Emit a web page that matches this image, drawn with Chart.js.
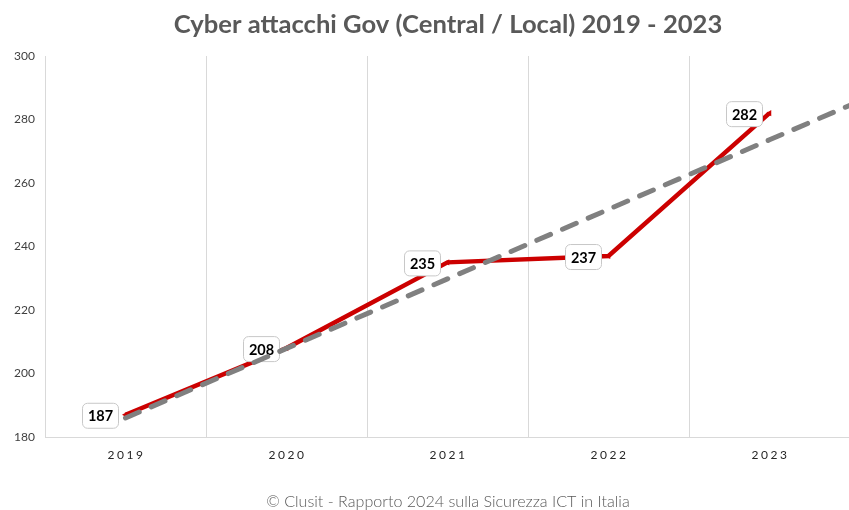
<!DOCTYPE html>
<html>
<head>
<meta charset="utf-8">
<script src="https://cdn.jsdelivr.net/npm/chart.js@4"></script>
<style>
html,body{margin:0;padding:0;background:#fff;overflow:hidden;}
#wrap{width:849px;height:510px;position:relative;overflow:hidden;}
</style>
</head>
<body>
<div id="wrap"><canvas id="c" width="853" height="510"></canvas></div>
<script>
const titleText = 'Cyber attacchi Gov (Central / Local) 2019 - 2023';
const footerText = '\u00A9 Clusit - Rapporto 2024 sulla Sicurezza ICT in Italia';
const years = ['2019', '2020', '2021', '2022', '2023'];
const attacks = [187, 208, 235, 237, 282];
// linear trend line (category index, value); last point is the half-period forecast
const trendIndex = [0, 1, 2, 3, 4, 4.5];
const trendValues = [186, 207.9, 229.8, 251.7, 273.6, 284.5];
const yTicks = [180, 200, 220, 240, 260, 280, 300];

const attackPoints = attacks.map((v, i) => ({x: i, y: v}));
const trendPoints = trendValues.map((v, i) => ({x: trendIndex[i], y: v}));

const textPlugin = {
  id: 'texts',
  afterDraw(chart) {
    const ctx = chart.ctx;
    const xs = chart.scales.x;
    ctx.save();
    ctx.fillStyle = '#595959';
    ctx.textAlign = 'center';
    ctx.textBaseline = 'middle';
    ctx.font = 'bold 25.6px Lato';
    ctx.fillText(titleText, 448, 25);
    ctx.font = '300 16.1px Lato';
    ctx.fillText(footerText, 448, 502);
    ctx.fillStyle = '#262626';
    ctx.font = '12px Lato';
    ctx.letterSpacing = '2.5px';
    years.forEach((y, i) => {
      ctx.fillText(y, xs.getPixelForValue(i) + 1, xs.top + 18);
    });
    ctx.restore();
  }
};

const labelPlugin = {
  id: 'boxLabels',
  afterDatasetDraw(chart, args) {
    if (args.index !== 0) return;
    const ctx = chart.ctx;
    const meta = args.meta;
    ctx.save();
    ctx.font = 'bold 14.5px Lato';
    ctx.textAlign = 'center';
    ctx.textBaseline = 'middle';
    meta.data.forEach((pt, i) => {
      const cx = pt.x - 25, cy = pt.y + 1;
      const w = 36, h = 25;
      ctx.beginPath();
      ctx.roundRect(cx - w / 2, cy - h / 2, w, h, 5);
      ctx.fillStyle = '#ffffff';
      ctx.fill();
      ctx.lineWidth = 1;
      ctx.strokeStyle = '#c8c8c8';
      ctx.stroke();
      ctx.fillStyle = '#000000';
      ctx.fillText(String(attacks[i]), cx, cy + 1);
    });
    ctx.restore();
  }
};

const halfTicks = [];
for (let i = -1; i < years.length * 2; i++) halfTicks.push({value: i / 2});

new Chart(document.getElementById('c'), {
  type: 'line',
  data: {
    datasets: [
      {
        label: 'Attacchi',
        data: attackPoints,
        borderColor: '#cc0000',
        backgroundColor: '#cc0000',
        borderWidth: 4.5,
        pointStyle: 'triangle',
        rotation: 270,
        pointRadius: 3.5,
        pointBorderWidth: 0,
        tension: 0,
        order: 1
      },
      {
        label: 'Trend',
        data: trendPoints,
        borderColor: '#808080',
        borderWidth: 5,
        borderDash: [15, 13],
        borderCapStyle: 'round',
        pointRadius: 0,
        tension: 0,
        order: 0
      }
    ]
  },
  options: {
    responsive: false,
    animation: false,
    layout: {autoPadding: false, padding: {top: 56, bottom: 43, left: 0, right: 0}},
    plugins: {legend: {display: false}, tooltip: {enabled: false}, title: {display: false}},
    scales: {
      x: {
        type: 'linear',
        min: -0.5,
        max: years.length - 0.5,
        afterBuildTicks: s => { s.ticks = halfTicks.map(t => ({value: t.value})); },
        afterFit: s => { s.height = 30; },
        ticks: {color: 'transparent', autoSkip: false, font: {size: 12}, callback: v => ''},
        grid: {
          drawTicks: false,
          color: c => {
            const v = c.tick ? c.tick.value : 0;
            return (Math.abs(v % 1) === 0.5 && v > -0.5 && v < years.length - 0.5) ? '#d9d9d9' : 'transparent';
          }
        },
        border: {display: true, color: '#d9d9d9', width: 1}
      },
      y: {
        min: yTicks[0],
        max: yTicks[yTicks.length - 1],
        afterBuildTicks: s => { s.ticks = yTicks.map(v => ({value: v})); },
        afterFit: s => { s.width = 45; },
        ticks: {color: '#404040', padding: 10, font: {family: 'Lato', size: 12}},
        grid: {display: false, drawTicks: false},
        border: {display: true, color: '#d9d9d9', width: 1}
      }
    }
  },
  plugins: [labelPlugin, textPlugin]
});
</script>
</body>
</html>
